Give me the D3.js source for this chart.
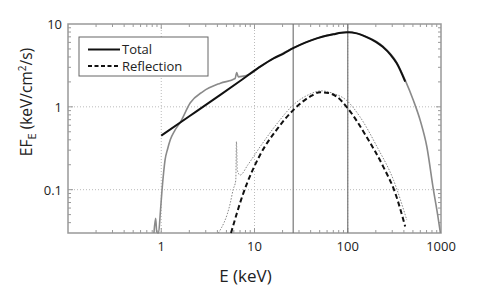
<!DOCTYPE html>
<html>
<head>
<meta charset="utf-8">
<script src="https://cdn.jsdelivr.net/npm/d3@7"></script>
<style>
  body { margin: 0; background: #fff; }
  text { font-family: "Open Sans", sans-serif; fill: #222; }
</style>
</head>
<body>
<svg id="chart" width="491" height="291"></svg>
<script>
// data (E in keV, EF_E in keV/cm^2/s)
const totalModelE = [1, 2, 4, 7, 11, 16, 20.5, 26, 35, 46.6, 60, 70, 85, 100, 125, 157, 200, 237, 290, 335, 413]
const totalModelF = [0.45, 0.77, 1.32, 2.05, 2.95, 3.85, 4.4, 5.1, 5.95, 6.7, 7.25, 7.5, 7.85, 7.95, 7.7, 7.0, 6.1, 5.3, 4.2, 3.36, 2.02]

const totalDataE = [0.835, 0.87, 0.895, 0.935, 0.98, 1.02, 1.06, 1.1, 1.17, 1.25, 1.4, 1.6, 2.05, 2.8, 4.3, 6.2, 6.45, 6.7, 9, 11, 16, 26, 46.6, 70, 100, 157, 237, 335, 413, 505, 600, 705, 829, 920, 985]
const totalDataF = [0.03, 0.045, 0.031, 0.03, 0.055, 0.1, 0.16, 0.23, 0.31, 0.40, 0.52, 0.65, 1.12, 1.53, 1.93, 2.2, 2.6, 2.3, 2.5, 2.95, 3.85, 5.15, 6.75, 7.55, 8.0, 7.05, 5.4, 3.45, 2.1, 1.2, 0.68, 0.33, 0.1, 0.05, 0.03]

const reflModelE = [5.6, 7.6, 11.5, 17.3, 26.2, 39.4, 50.6, 62, 76, 100, 158, 240, 323, 413]
const reflModelF = [0.03, 0.091, 0.264, 0.53, 0.92, 1.33, 1.50, 1.47, 1.33, 0.96, 0.44, 0.19, 0.091, 0.036]

const reflDataE = [4.1, 5.5, 5.9, 6.3, 6.4, 6.55, 7.0, 8.5, 11.5, 17.3, 26.2, 39, 52, 70, 96, 135, 206, 310, 430]
const reflDataF = [0.03, 0.069, 0.1, 0.13, 0.38, 0.17, 0.15, 0.2, 0.33, 0.62, 1.06, 1.42, 1.56, 1.45, 1.21, 0.76, 0.33, 0.13, 0.043]

const markerLines = [26, 100]
const xTickLabels = [1, 10, 100, 1000]
const yTickLabels = [0.1, 1, 10]
const legendNames = ["Total", "Reflection"]

const svg = d3.select("#chart")
const margin = {left: 68, top: 24, right: 50, bottom: 58}
const width = 491 - margin.left - margin.right,
  height = 291 - margin.top - margin.bottom

const x = d3.scaleLog().domain([0.1, 1000]).range([0, width])
const y = d3.scaleLog().domain([0.03, 10]).range([height, 0])

const g = svg.append("g").attr("transform", `translate(${margin.left},${margin.top})`)

// grid
g.append("g").selectAll("line")
  .data([1, 10, 100])
  .join("line")
    .attr("x1", d => x(d)).attr("x2", d => x(d))
    .attr("y1", 0).attr("y2", height)
    .attr("stroke", "#bbb").attr("stroke-dasharray", "1,2")
g.append("g").selectAll("line")
  .data([0.1, 1])
  .join("line")
    .attr("y1", d => y(d)).attr("y2", d => y(d))
    .attr("x1", 0).attr("x2", width)
    .attr("stroke", "#bbb").attr("stroke-dasharray", "1,2")

// ticks inside on all sides
const xTicks = x.ticks().filter(d => d > 0.1 && d < 1000)
const yTicks = y.ticks().filter(d => d > 0.03 && d < 10)
const isMajor = d => Math.abs(Math.log10(d) - Math.round(Math.log10(d))) < 1e-6
const tk = g.append("g").attr("stroke", "#999").attr("stroke-width", 1)
tk.selectAll(".xb").data(xTicks).join("line")
  .attr("x1", d => x(d)).attr("x2", d => x(d))
  .attr("y1", height).attr("y2", d => height - (isMajor(d) ? 5 : 3))
tk.selectAll(".xt").data(xTicks).join("line")
  .attr("x1", d => x(d)).attr("x2", d => x(d))
  .attr("y1", 0).attr("y2", d => isMajor(d) ? 5 : 3)
tk.selectAll(".yl").data(yTicks).join("line")
  .attr("y1", d => y(d)).attr("y2", d => y(d))
  .attr("x1", 0).attr("x2", d => isMajor(d) ? 5 : 3)
tk.selectAll(".yr").data(yTicks).join("line")
  .attr("y1", d => y(d)).attr("y2", d => y(d))
  .attr("x1", width).attr("x2", d => width - (isMajor(d) ? 5 : 3))

// frame
g.append("rect").attr("width", width).attr("height", height)
  .attr("fill", "none").attr("stroke", "#999").attr("stroke-width", 1.5)

// tick labels
g.append("g").selectAll("text")
  .data(xTickLabels)
  .join("text")
    .attr("x", d => x(d)).attr("y", height + 18)
    .attr("text-anchor", "middle")
    .style("font-size", "13px")
    .text(d => d)
g.append("g").selectAll("text")
  .data(yTickLabels)
  .join("text")
    .attr("x", -6).attr("y", d => y(d) + 5)
    .attr("text-anchor", "end")
    .style("font-size", "13px")
    .text(d => d)

// vertical marker lines
g.append("g").selectAll("line")
  .data(markerLines)
  .join("line")
    .attr("x1", d => x(d)).attr("x2", d => x(d))
    .attr("y1", 0).attr("y2", height)
    .attr("stroke", "#777").attr("stroke-width", 1.2)

const line = d3.line()
  .x(d => x(d[0]))
  .y(d => y(d[1]))
  .curve(d3.curveMonotoneX)
const pairs = (a, b) => a.map((v, i) => [v, b[i]])

const plot = g.append("g")
plot.append("path").attr("d", line(pairs(reflDataE, reflDataF)))
  .attr("fill", "none").attr("stroke", "#888").attr("stroke-width", 1)
  .attr("stroke-dasharray", "1.5,1.5")
plot.append("path").attr("d", line(pairs(reflModelE, reflModelF)))
  .attr("fill", "none").attr("stroke", "#111").attr("stroke-width", 2)
  .attr("stroke-dasharray", "5,3")
plot.append("path").attr("d", line(pairs(totalDataE, totalDataF)))
  .attr("fill", "none").attr("stroke", "#8a8a8a").attr("stroke-width", 1.6)
plot.append("path").attr("d", line(pairs(totalModelE, totalModelF)))
  .attr("fill", "none").attr("stroke", "#111").attr("stroke-width", 2)

// legend
const lg = g.append("g").attr("transform", "translate(11,13)")
lg.append("rect").attr("width", 129).attr("height", 39)
  .attr("fill", "#fff").attr("stroke", "#666").attr("stroke-width", 1)
lg.selectAll(".ll").data(legendNames).join("line")
  .attr("x1", 9).attr("x2", 41)
  .attr("y1", (d, i) => 12.5 + i * 16.5).attr("y2", (d, i) => 12.5 + i * 16.5)
  .attr("stroke", "#111").attr("stroke-width", 2)
  .attr("stroke-dasharray", (d, i) => i ? "4,2.5" : null)
lg.selectAll("text").data(legendNames).join("text")
  .attr("x", 43).attr("y", (d, i) => 17 + i * 16.5)
  .style("font-size", "13px")
  .text(d => d)

// axis titles
svg.append("text")
  .attr("x", margin.left + x(10) - 9).attr("y", 282)
  .attr("text-anchor", "middle")
  .style("font-size", "17px")
  .text("E (keV)")

const yl = svg.append("text")
  .attr("transform", `translate(32,${margin.top + 78}) rotate(-90)`)
  .attr("text-anchor", "middle")
  .style("font-size", "15.5px")
yl.append("tspan").text("EF")
yl.append("tspan").attr("dy", 4).style("font-size", "11px").text("E")
yl.append("tspan").attr("dy", -4).text(" (keV/cm")
yl.append("tspan").attr("dy", -6).style("font-size", "10px").text("2")
yl.append("tspan").attr("dy", 6).text("/s)")
</script>
</body>
</html>
